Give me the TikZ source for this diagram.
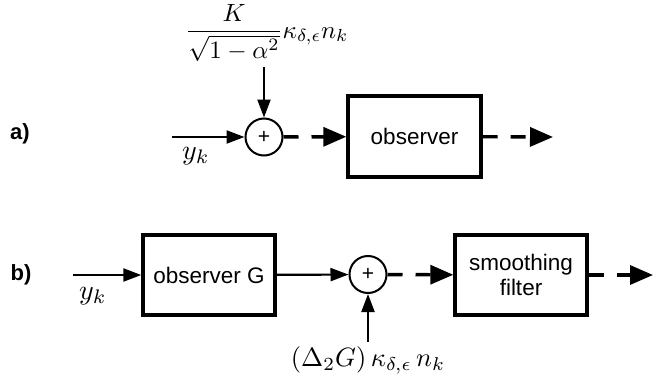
\documentclass[tikz,border=0pt]{standalone}
\usepackage{fontspec}
\newfontfamily\arial{Liberation Sans}
\usetikzlibrary{arrows.meta}
\begin{document}
\begin{tikzpicture}[x=1pt,y=-1pt,
  txt/.style={font=\fontsize{22.5}{25}\arial},
  lbl/.style={font=\fontsize{22}{26}\arial\bfseries},
  mth/.style={scale=2.8, inner sep=0pt},
  blk/.style={draw, line width=3.4pt, minimum width=133pt, minimum height=81pt, inner sep=0pt, txt, align=center},
  sumnode/.style={draw, circle, line width=2pt, minimum size=37pt, inner sep=0pt, font=\fontsize{21}{24}\arial},
  sarrow/.style={line width=2.2pt, -{Triangle[length=18pt,width=13pt]}},
  darrow/.style={line width=3.4pt, dash pattern=on 15pt off 13pt, -{Triangle[length=23pt,width=19pt]}},
]
\useasboundingbox (0,0) rectangle (654,380);
% row a
\node[lbl] (la) at (20,134) {a)};
\node[sumnode] (s1) at (264,137) {+};
\node[blk] (obs) at (414.5,136.5) {observer};
\coordinate (in1) at (172,137);
\coordinate (out1) at (553,137);
\node[mth, scale=2.5/2.8, anchor=base] (n1) at (267,38) {$\displaystyle\frac{K}{\sqrt{1-\alpha^2}}\kappa_{\delta,\epsilon}n_k$};
\coordinate (n1b) at (264,67);
\node[mth] (y1) at (196,156) {$y_k$};
% row b
\node[lbl] (lb) at (21,275) {b)};
\node[blk, minimum width=132pt, minimum height=80pt] (obsg) at (209,275) {observer G};
\node[sumnode] (s2) at (368,274.5) {+};
\node[blk, minimum width=132pt, minimum height=80pt] (sf) at (521,275) {smoothing\\filter};
\coordinate (in2) at (73,275);
\coordinate (out2) at (653,275);
\node[mth] (y2) at (93,296) {$y_k$};
\node[mth, scale=2.65/2.8] (n2) at (368,360) {$(\Delta_2G)\,\kappa_{\delta,\epsilon}\,n_k$};
\coordinate (n2t) at (368,342);
% connectors
\draw[sarrow] (in1) -- (s1);
\draw[sarrow] (n1b) -- (s1);
\draw[darrow] (s1) -- (obs);
\draw[darrow] (obs) -- (out1);
\draw[sarrow] (in2) -- (obsg);
\draw[sarrow] (obsg) -- (s2);
\draw[sarrow] (n2t) -- (s2);
\draw[darrow] (s2) -- (sf);
\draw[darrow] (sf) -- (out2);
\end{tikzpicture}
\end{document}
